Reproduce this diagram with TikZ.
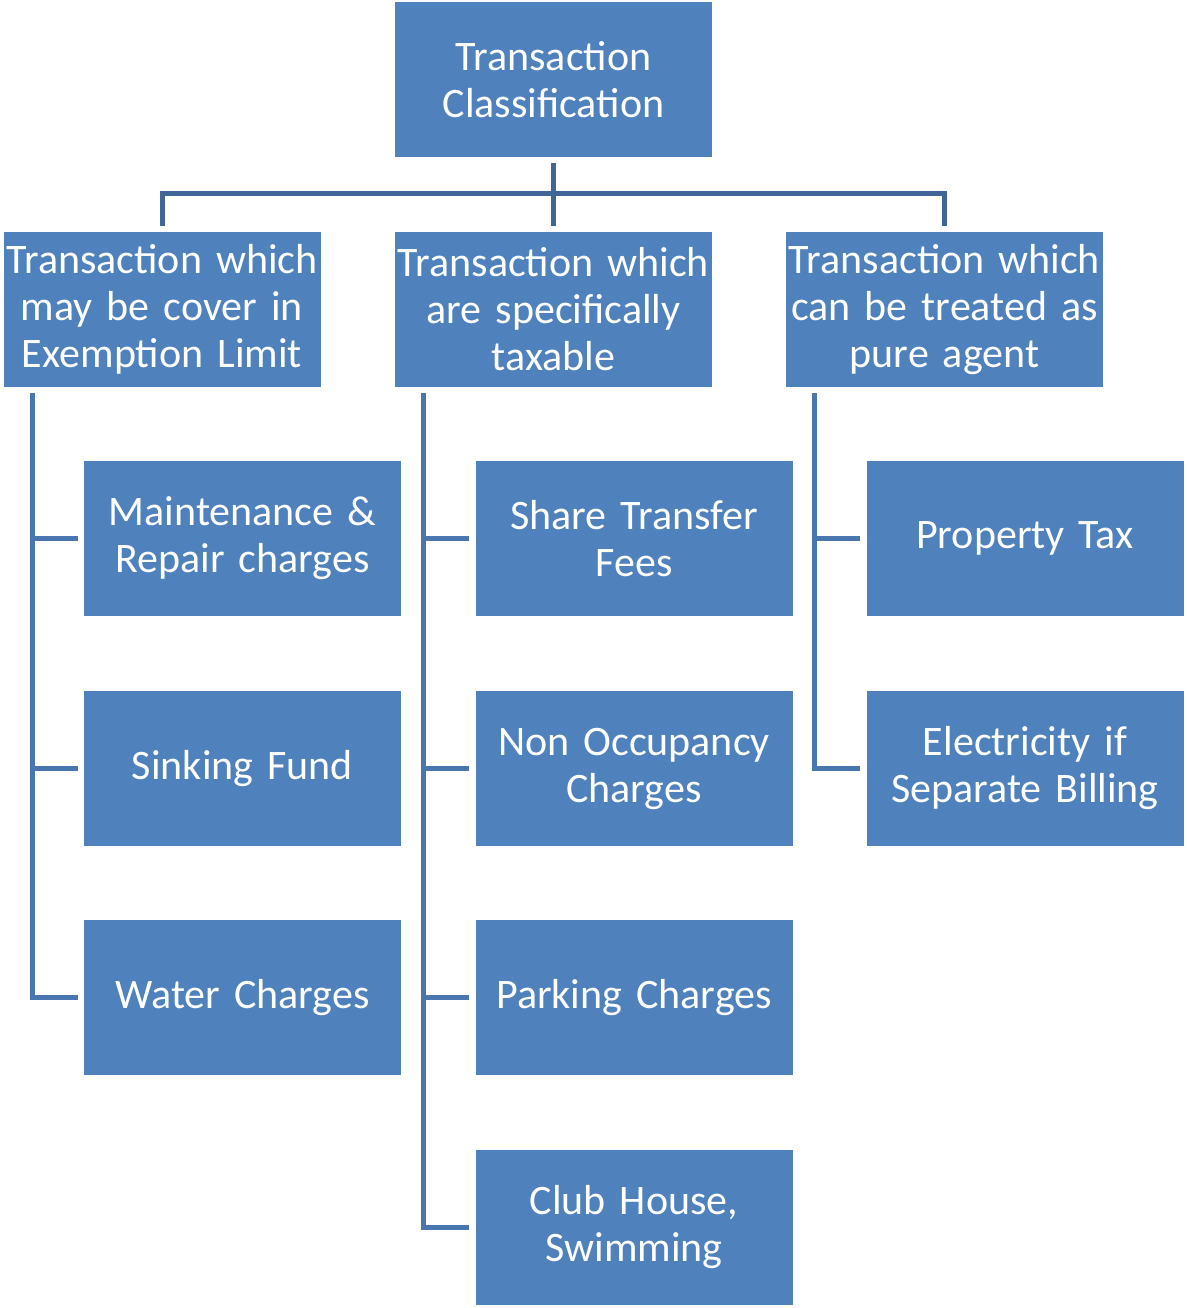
\documentclass[tikz,border=0pt]{standalone}
\usepackage{fontspec}
\setmainfont{Carlito}
\usetikzlibrary{calc}
\definecolor{boxblue}{HTML}{4F81BD}
\definecolor{linedark}{HTML}{3F6696}
\definecolor{lineblue}{HTML}{4A76B0}
\begin{document}
\begin{tikzpicture}[x=1pt,y=-1pt,
  box/.style={fill=boxblue, draw=none, minimum width=317pt, minimum height=155pt,
    text width=317pt, align=center, text=white, inner sep=0pt,
    font=\fontsize{42}{47}\selectfont},
  topconn/.style={line width=5pt, draw=linedark},
  conn/.style={line width=5pt, draw=lineblue}]
\useasboundingbox (0,0) rectangle (1186,1308);

\node[box] (top) at (553.5,79.5) {Transaction\\Classification};

\node[box] (l2a) at (162,309.5) {Transaction which\\may be cover in\\Exemption Limit};
\node[box] (l2b) at (553.5,309.5) {Transaction which\\are specifically\\taxable};
\node[box] (l2c) at (944.5,309.5) {Transaction which\\can be treated as\\pure agent};

\node[box] (a1) at (242.5,538.5) {Maintenance \&\\Repair charges};
\node[box] (a2) at (242.5,768.5) {Sinking Fund};
\node[box] (a3) at (242.5,997.5) {Water Charges};

\node[box] (b1) at (634,538.5) {Share Transfer\\Fees};
\node[box] (b2) at (634,768.5) {Non Occupancy\\Charges};
\node[box] (b3) at (634,997.5) {Parking Charges};
\node[box] (b4) at (634,1227.5) {Club House,\\Swimming};

\node[box] (c1) at (1025,538.5) {Property Tax};
\node[box] (c2) at (1025,768.5) {Electricity if\\Separate Billing};

% top connectors
\draw[topconn, shorten <=6pt, shorten >=6pt] (top.south) -- (l2b.north);
\draw[topconn, shorten <=6pt, shorten >=6pt] (l2a.north) -- ++(0,-38) -| (l2c.north);

% spines
\draw[conn] ($(l2a.south west)+(29,6)$) |- ($(a3.west)+(-6,0)$);
\draw[conn] ($(a1.west)+(-6,0)$) -- ($(a1.west)+(-51,0)$);
\draw[conn] ($(a2.west)+(-6,0)$) -- ($(a2.west)+(-51,0)$);

\draw[conn] ($(l2b.south west)+(29,6)$) |- ($(b4.west)+(-6,0)$);
\draw[conn] ($(b1.west)+(-6,0)$) -- ($(b1.west)+(-51,0)$);
\draw[conn] ($(b2.west)+(-6,0)$) -- ($(b2.west)+(-51,0)$);
\draw[conn] ($(b3.west)+(-6,0)$) -- ($(b3.west)+(-51,0)$);

\draw[conn] ($(l2c.south west)+(29,6)$) |- ($(c2.west)+(-6,0)$);
\draw[conn] ($(c1.west)+(-6,0)$) -- ($(c1.west)+(-51,0)$);
\end{tikzpicture}
\end{document}
